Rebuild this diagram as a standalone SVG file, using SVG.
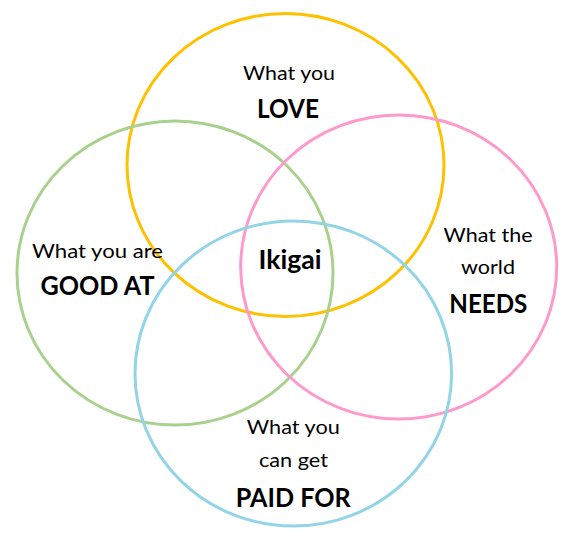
<svg xmlns="http://www.w3.org/2000/svg" width="569" height="540" viewBox="0 0 569 540">
  <style>
    .ring { fill: none; stroke-width: 3; }
    .t { font-family: Lato, "Open Sans", "Liberation Sans", sans-serif; fill: #000; text-anchor: middle; }
    .r { font-size: 20px; font-weight: 400; }
    .b { font-size: 26px; font-weight: 700; }
  </style>
  <rect width="569" height="540" fill="#fff"/>
  <g id="love">
    <ellipse class="ring" cx="285.5" cy="165" rx="158.5" ry="151.5" stroke="#FFC000"/>
    <text class="t r" x="289" y="79.5" textLength="92" lengthAdjust="spacingAndGlyphs">What you</text>
    <text class="t b" x="288" y="118" textLength="62" lengthAdjust="spacingAndGlyphs">LOVE</text>
  </g>
  <g id="good-at">
    <ellipse class="ring" cx="175" cy="273" rx="158" ry="152" stroke="#A9D18E"/>
    <text class="t r" x="97.5" y="257.5" textLength="131" lengthAdjust="spacingAndGlyphs">What you are</text>
    <text class="t b" x="97.5" y="295" textLength="114" lengthAdjust="spacingAndGlyphs">GOOD AT</text>
  </g>
  <g id="needs">
    <ellipse class="ring" cx="398.7" cy="267" rx="158" ry="152" stroke="#FF99CC"/>
    <text class="t r" x="488" y="241.5" textLength="89" lengthAdjust="spacingAndGlyphs">What the</text>
    <text class="t r" x="488" y="274" textLength="54" lengthAdjust="spacingAndGlyphs">world</text>
    <text class="t b" x="488.3" y="313.3" textLength="78" lengthAdjust="spacingAndGlyphs">NEEDS</text>
  </g>
  <g id="paid-for">
    <ellipse class="ring" cx="293.3" cy="373.5" rx="158.3" ry="152.5" stroke="#93D4E6"/>
    <text class="t r" x="293.3" y="434.3" textLength="93" lengthAdjust="spacingAndGlyphs">What you</text>
    <text class="t r" x="293.5" y="466.5" textLength="69" lengthAdjust="spacingAndGlyphs">can get</text>
    <text class="t b" x="293.3" y="506.7" textLength="115" lengthAdjust="spacingAndGlyphs">PAID FOR</text>
  </g>
  <g id="ikigai">
    <text class="t b" x="290" y="269.3" textLength="63" lengthAdjust="spacingAndGlyphs">Ikigai</text>
  </g>
  <g id="connectors"></g>
</svg>
